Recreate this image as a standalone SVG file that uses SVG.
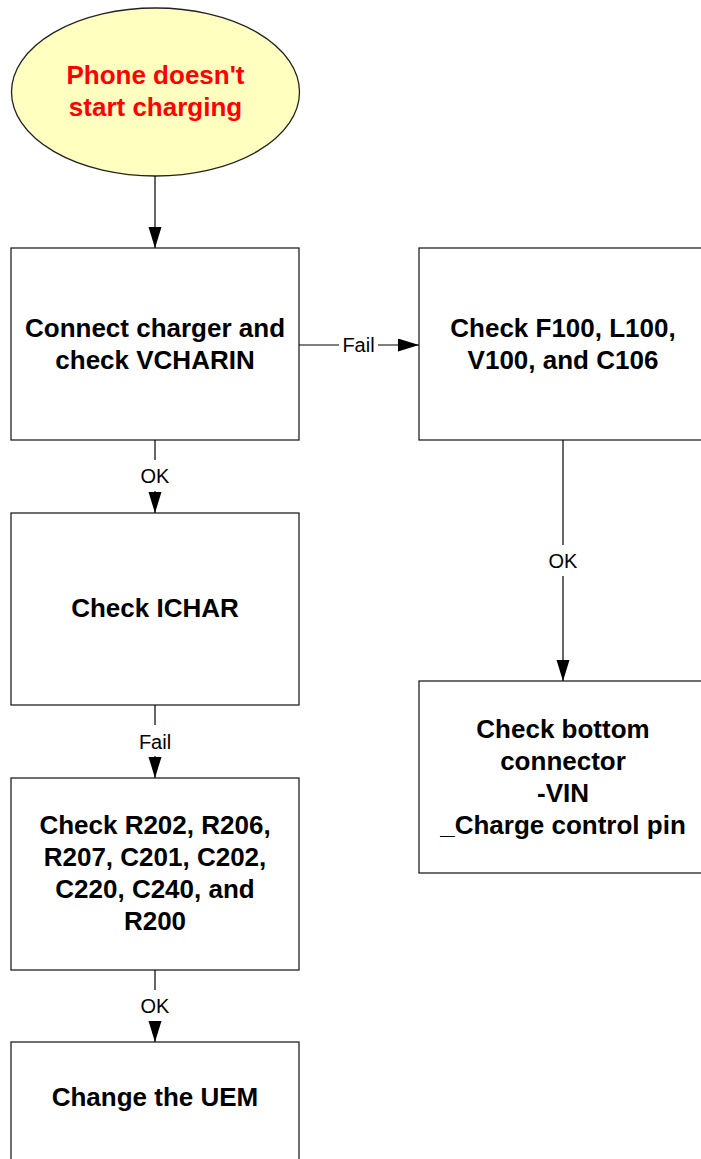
<svg xmlns="http://www.w3.org/2000/svg" width="701" height="1159" viewBox="0 0 701 1159">
<style>
.box{fill:#fff;stroke:#222;stroke-width:1.3}
.t{font-family:"Liberation Sans",Arial,sans-serif;font-weight:bold;font-size:26px;fill:#000;text-anchor:middle}
.st{font-family:"Liberation Sans",Arial,sans-serif;font-weight:bold;font-size:26px;fill:#ff0000;text-anchor:middle}
.lbl{font-family:"Liberation Sans",Arial,sans-serif;font-size:20px;fill:#000;text-anchor:middle}
.c{stroke:#000;stroke-width:1.2;fill:none}
.bg{fill:#fff}
</style>
<defs>
<marker id="arr" markerUnits="userSpaceOnUse" markerWidth="22" markerHeight="14" refX="21" refY="6.5" orient="auto">
<path d="M0,0 L21,6.5 L0,13 z" fill="#000"/>
</marker>
</defs>
<g id="start">
<ellipse cx="155.5" cy="92" rx="144" ry="84" fill="#ffffc0" stroke="#222" stroke-width="1.3"/>
<text class="st" x="155.5" y="84">Phone doesn't</text>
<text class="st" x="155.5" y="116">start charging</text>
</g>
<g id="n1">
<rect class="box" x="11" y="248" width="288" height="192"/>
<text class="t" x="155" y="337">Connect charger and</text>
<text class="t" x="155" y="369">check VCHARIN</text>
</g>
<g id="n2">
<rect class="box" x="419" y="248" width="288" height="192"/>
<text class="t" x="563" y="337">Check F100, L100,</text>
<text class="t" x="563" y="369">V100, and C106</text>
</g>
<g id="n3">
<rect class="box" x="11" y="513" width="288" height="192"/>
<text class="t" x="155" y="617">Check ICHAR</text>
</g>
<g id="n4">
<rect class="box" x="11" y="778" width="288" height="192"/>
<text class="t" x="155" y="834">Check R202, R206,</text>
<text class="t" x="155" y="866">R207, C201, C202,</text>
<text class="t" x="155" y="898">C220, C240, and</text>
<text class="t" x="155" y="930">R200</text>
</g>
<g id="n5">
<rect class="box" x="11" y="1042" width="288" height="192"/>
<text class="t" x="155" y="1106">Change the UEM</text>
</g>
<g id="n6">
<rect class="box" x="419" y="681" width="288" height="192"/>
<text class="t" x="563" y="738">Check bottom</text>
<text class="t" x="563" y="770">connector</text>
<text class="t" x="563" y="802">-VIN</text>
<text class="t" x="563" y="834">_Charge control pin</text>
</g>
<g id="connectors">
<line class="c" x1="155" y1="176" x2="155" y2="248" marker-end="url(#arr)"/>
<line class="c" x1="299" y1="345" x2="419" y2="345" marker-end="url(#arr)"/>
<rect class="bg" x="339" y="334" width="39" height="22"/>
<text class="lbl" x="358.5" y="352">Fail</text>
<line class="c" x1="155" y1="440" x2="155" y2="513" marker-end="url(#arr)"/>
<rect class="bg" x="138" y="460" width="34" height="31"/>
<text class="lbl" x="155" y="483">OK</text>
<line class="c" x1="155" y1="705" x2="155" y2="778" marker-end="url(#arr)"/>
<rect class="bg" x="137" y="725" width="36" height="31"/>
<text class="lbl" x="155" y="749">Fail</text>
<line class="c" x1="155" y1="970" x2="155" y2="1042" marker-end="url(#arr)"/>
<rect class="bg" x="138" y="990" width="34" height="31"/>
<text class="lbl" x="155" y="1013">OK</text>
<line class="c" x1="563" y1="440" x2="563" y2="681" marker-end="url(#arr)"/>
<rect class="bg" x="546" y="545" width="34" height="31"/>
<text class="lbl" x="563" y="568">OK</text>
</g>
</svg>
